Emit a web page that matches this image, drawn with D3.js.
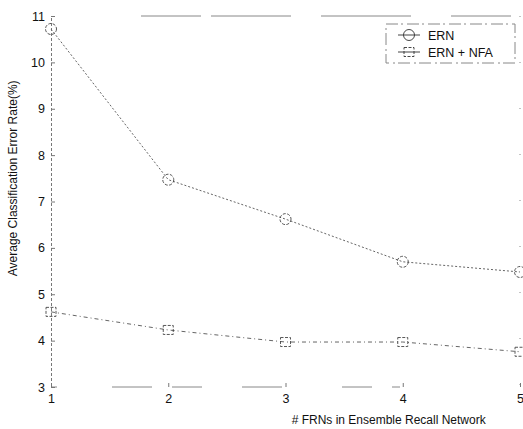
<!DOCTYPE html>
<html>
<head>
<meta charset="utf-8">
<script src="https://cdn.jsdelivr.net/npm/d3@7"></script>
<style>
  body { margin: 0; background: #fff; }
  text { font-family: "Liberation Sans", Arial, sans-serif; fill: #111; }
</style>
</head>
<body>
<div id="chart"></div>
<script>
// data
var frn_counts = [1, 2, 3, 4, 5];
var ern_rates = [10.72, 7.47, 6.62, 5.70, 5.48];
var ern_nfa_rates = [4.62, 4.23, 3.97, 3.97, 3.76];
var y_ticks = [3, 4, 5, 6, 7, 8, 9, 10, 11];
var series_names = ["ERN", "ERN + NFA"];

var total_width = 523, total_height = 429;
var margin = { left: 51, top: 16, right: 3, bottom: 42 };
var plot_w = total_width - margin.left - margin.right;
var plot_h = total_height - margin.top - margin.bottom;

var svg_root = d3.select("#chart").append("svg")
    .attr("width", total_width)
    .attr("height", total_height);

var plot_group = svg_root.append("g")
    .attr("transform", "translate(" + margin.left + "," + margin.top + ")");

var x = d3.scaleLinear().domain([1, 5]).range([0, plot_w]);
var y = d3.scaleLinear().domain([3, 11]).range([plot_h, 0]);

// box edges - scanned, so broken up a bit
var box_color = "#888";
plot_group.append("line")
    .attr("x1", 0).attr("x2", plot_w).attr("y1", 0).attr("y2", 0)
    .attr("stroke", box_color).attr("stroke-width", 1)
    .attr("stroke-dasharray", "0,90,60,10,80,30,90,40,60,200");
plot_group.append("line")
    .attr("x1", 0).attr("x2", plot_w).attr("y1", plot_h).attr("y2", plot_h)
    .attr("stroke", box_color).attr("stroke-width", 1)
    .attr("stroke-dasharray", "6,55,40,20,30,40,40,60,30,20,8,200");
plot_group.append("line")
    .attr("x1", plot_w).attr("x2", plot_w).attr("y1", 0).attr("y2", plot_h)
    .attr("stroke", box_color).attr("stroke-width", 1)
    .attr("stroke-dasharray", "1,45");

// y axis
var y_axis = d3.axisLeft(y).tickValues(y_ticks).tickSize(-4).tickPadding(6)
    .tickFormat(d3.format("d"));
var y_g = plot_group.append("g").call(y_axis);
y_g.select(".domain").attr("stroke", "#777").attr("stroke-dasharray", "3,2");
y_g.selectAll(".tick line").attr("stroke", "#777");
y_g.selectAll("text").attr("font-size", 12.5).attr("fill", "#111");

// x axis
var x_axis = d3.axisBottom(x).tickValues(frn_counts).tickSize(-4).tickPadding(7)
    .tickFormat(d3.format("d"));
var x_g = plot_group.append("g")
    .attr("transform", "translate(0," + plot_h + ")")
    .call(x_axis);
x_g.select(".domain").remove();
x_g.selectAll(".tick line").attr("stroke", "#777");
x_g.selectAll("text").attr("font-size", 12.5).attr("fill", "#111");

// axis titles
svg_root.append("text")
    .attr("x", margin.left + x(3.88))
    .attr("y", 424)
    .attr("text-anchor", "middle")
    .attr("font-size", 12)
    .text("# FRNs in Ensemble Recall Network");

svg_root.append("text")
    .attr("transform", "translate(17," + (margin.top + y(7.5)) + ") rotate(-90)")
    .attr("text-anchor", "middle")
    .attr("font-size", 12)
    .text("Average Classification Error Rate(%)");

// series
var line_gen = d3.line()
    .x(function(d) { return x(d[0]); })
    .y(function(d) { return y(d[1]); });

var ern_pts = frn_counts.map(function(c, i) { return [c, ern_rates[i]]; });
var nfa_pts = frn_counts.map(function(c, i) { return [c, ern_nfa_rates[i]]; });

plot_group.append("path")
    .datum(ern_pts)
    .attr("d", line_gen)
    .attr("fill", "none")
    .attr("stroke", "#666")
    .attr("stroke-width", 1)
    .attr("stroke-dasharray", "2,2");

plot_group.append("path")
    .datum(nfa_pts)
    .attr("d", line_gen)
    .attr("fill", "none")
    .attr("stroke", "#666")
    .attr("stroke-width", 1)
    .attr("stroke-dasharray", "4,3,1,3");

plot_group.selectAll(".ern-mark")
    .data(ern_pts)
    .enter().append("circle")
    .attr("class", "ern-mark")
    .attr("cx", function(d) { return x(d[0]); })
    .attr("cy", function(d) { return y(d[1]); })
    .attr("r", 5.5)
    .attr("fill", "none")
    .attr("stroke", "#444")
    .attr("stroke-width", 0.9)
    .attr("stroke-dasharray", "3,1.5");

plot_group.selectAll(".nfa-mark")
    .data(nfa_pts)
    .enter().append("rect")
    .attr("class", "nfa-mark")
    .attr("x", function(d) { return x(d[0]) - 5; })
    .attr("y", function(d) { return y(d[1]) - 4.5; })
    .attr("width", 10)
    .attr("height", 9)
    .attr("fill", "none")
    .attr("stroke", "#444")
    .attr("stroke-width", 0.9)
    .attr("stroke-dasharray", "3,1.5");

// legend box
var legend = svg_root.append("g").attr("transform", "translate(386,24)");
legend.append("rect")
    .attr("width", 129).attr("height", 39)
    .attr("fill", "#fff")
    .attr("stroke", "#888")
    .attr("stroke-width", 1)
    .attr("stroke-dasharray", "12,3,2,4");

var legend_rows = legend.selectAll(".row")
    .data(series_names)
    .enter().append("g")
    .attr("transform", function(d, i) { return "translate(0," + (11 + i * 17) + ")"; });

legend_rows.append("line")
    .attr("x1", 12).attr("x2", 34)
    .attr("stroke", "#444").attr("stroke-width", 1);

legend_rows.each(function(d, i) {
    var row = d3.select(this);
    if (i === 0) {
        row.append("circle").attr("cx", 23).attr("r", 5.5)
            .attr("fill", "none").attr("stroke", "#333").attr("stroke-width", 0.9);
    } else {
        row.append("rect").attr("x", 18).attr("y", -4.5).attr("width", 10).attr("height", 9)
            .attr("fill", "none").attr("stroke", "#333").attr("stroke-width", 0.9)
            .attr("stroke-dasharray", "3,1.5");
    }
});

legend_rows.append("text")
    .attr("x", 42)
    .attr("y", 4.5)
    .attr("font-size", 12.5)
    .text(function(d) { return d; });
</script>
</body>
</html>
